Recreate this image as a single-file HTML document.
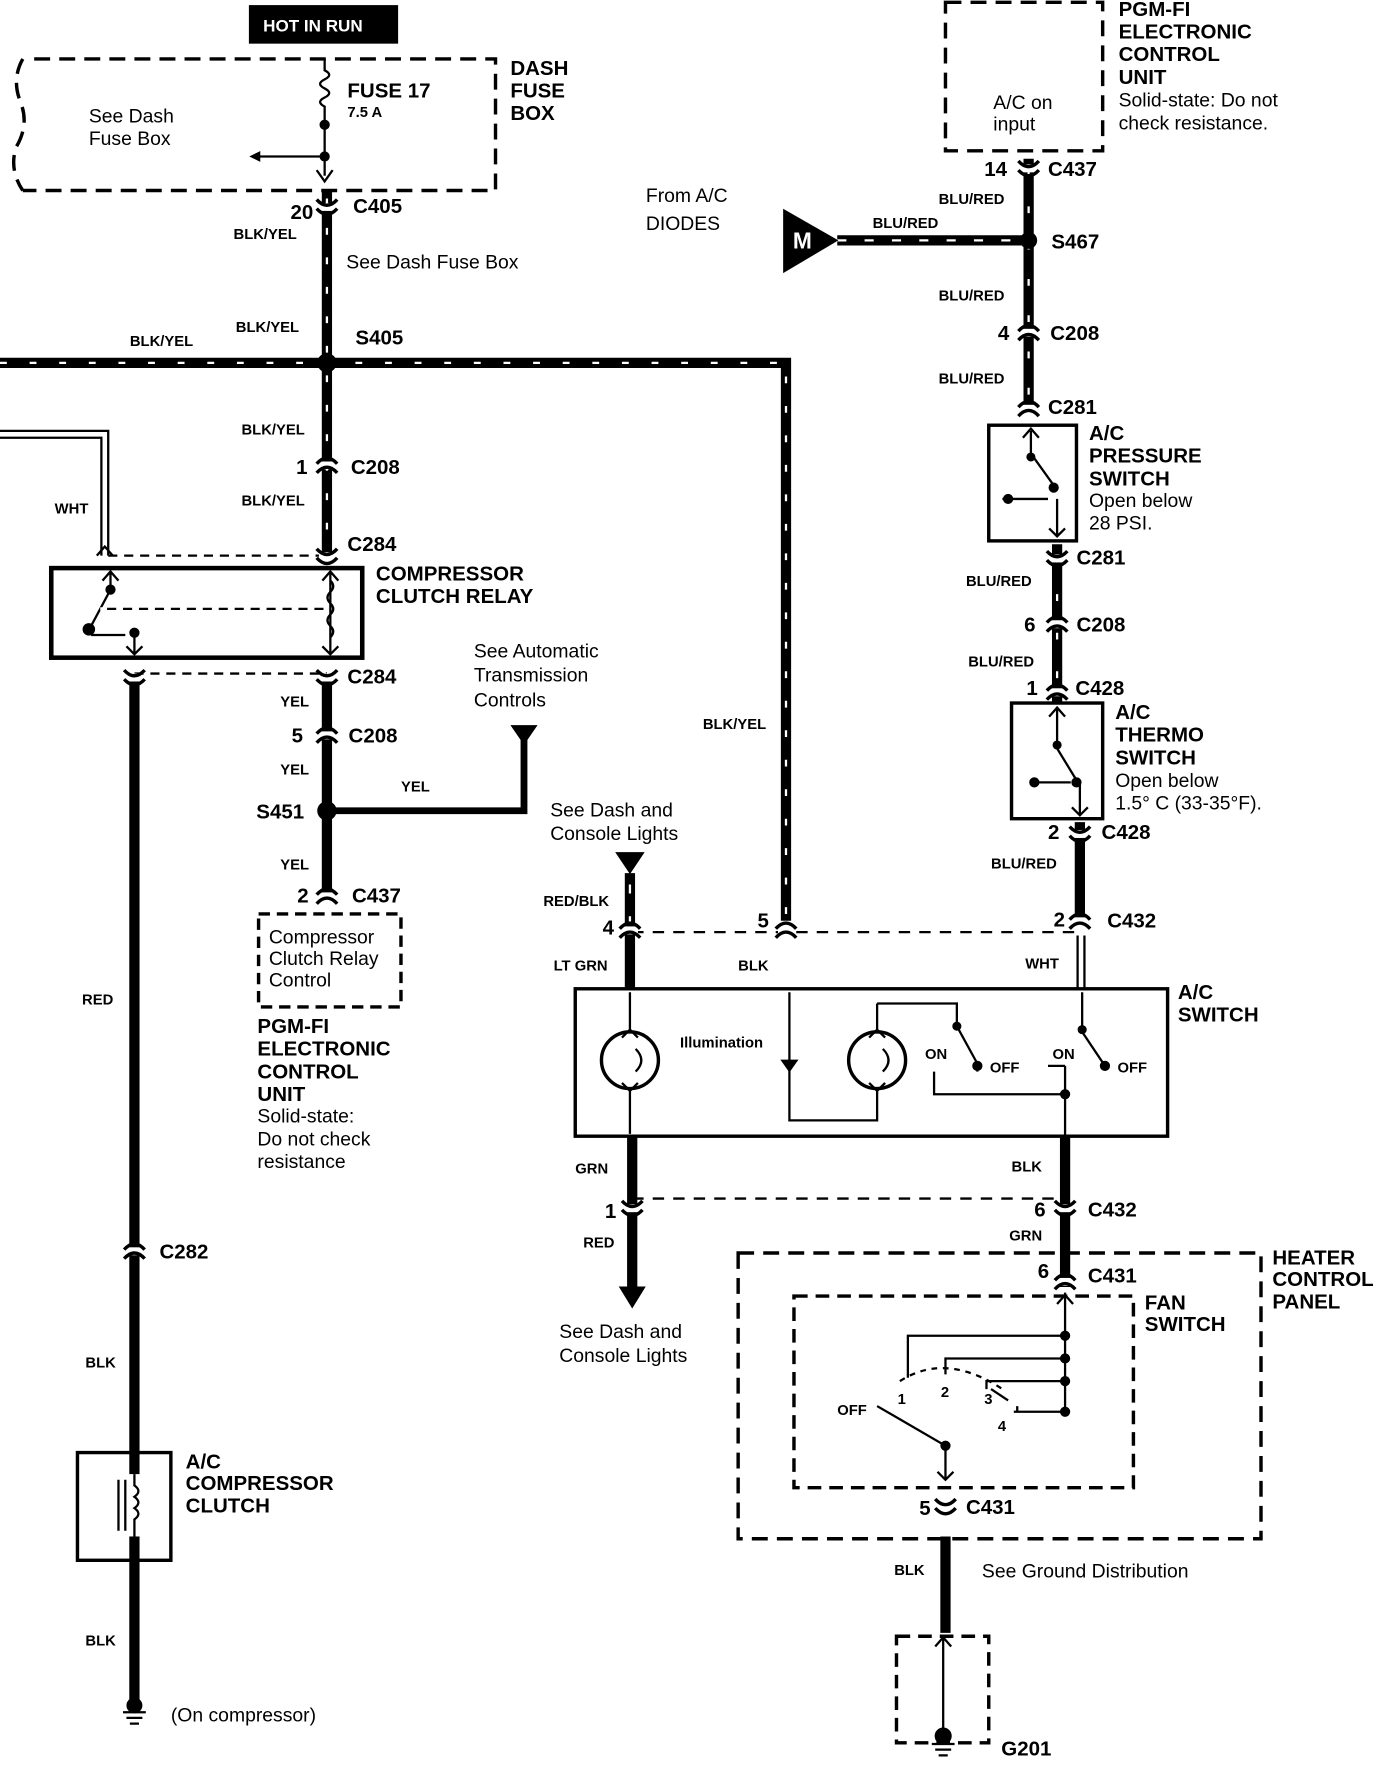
<!DOCTYPE html>
<html><head><meta charset="utf-8"><style>
html,body{margin:0;padding:0;background:#fff}
svg{display:block}
text{font-family:"Liberation Sans",Arial,sans-serif;fill:#000}
.b{font-weight:bold}
.s{font-size:13px;font-weight:bold}
.m{font-size:17px}
.l{font-size:18px;font-weight:bold}
</style></head><body>
<svg width="1392" height="1778" viewBox="0 0 1222 1568" preserveAspectRatio="none" xmlns="http://www.w3.org/2000/svg">
<defs>
<g id="cn"><rect x="-7" y="-3" width="14" height="7" fill="#fff"/><path d="M-9 -1 Q0 -11 9 -1" fill="none" stroke="#000" stroke-width="3"/><path d="M-9 7 Q0 -3 9 7" fill="none" stroke="#000" stroke-width="3"/></g>
<g id="cnv"><rect x="-7" y="-3" width="14" height="7" fill="#fff"/><path d="M-9 -6 Q0 4 9 -6" fill="none" stroke="#000" stroke-width="3"/><path d="M-9 2 Q0 12 9 2" fill="none" stroke="#000" stroke-width="3"/></g>
</defs>
<g fill="none" stroke="#000">
<!-- HOT IN RUN -->
<rect x="219" y="5" width="130" height="33" fill="#000"/>
<!-- dash fuse box -->
<path d="M30 52 H435 V168 H20 M20 52 Q10 70 18 90 Q26 110 14 130 Q8 150 20 168" stroke-width="3" stroke-dasharray="14 8"/>
<path d="M285 52 V62 q8 4 0 8 q-8 4 0 8 q8 4 0 8 q-8 4 0 8 V155" stroke-width="2"/>
<path d="M285 138 H225" stroke-width="2"/>
<path d="M228 134 L220 138 L228 142 Z" fill="#000"/>
<circle cx="285" cy="110" r="4" fill="#000"/><circle cx="285" cy="138" r="4" fill="#000"/>
<path d="M278 150 L285 160 L292 150" stroke-width="2"/>
<!-- BLK/YEL main wire -->
<path d="M287 168 V490" stroke-width="9"/>
<path d="M0 320 H690 V812" stroke-width="9"/>
<path d="M287 175 V490 M0 320 H690 V812" stroke="#fff" stroke-width="2" stroke-dasharray="6 20"/>
<circle cx="287" cy="320" r="8" fill="#000"/>
<!-- WHT wire -->
<path d="M0 380 H95 V490 M0 386 H89 V490" stroke-width="2"/>
<path d="M85 490 L92 482 L99 490" stroke-width="2"/>
<!-- relay -->
<path d="M95 490 H287" stroke-width="2" stroke-dasharray="8 6"/>
<rect x="45" y="501" width="273" height="79" stroke-width="4"/>
<path d="M97 505 V520 M90 512 L97 504 L104 512 M97 520 L80 552 M80 560 H110 M118 560 V577 M111 570 L118 577 L125 570 M290 505 V577 M283 512 L290 504 L297 512 M283 570 L290 577 L297 570 M88 537 H288" stroke-width="2" stroke-dasharray="0"/>
<path d="M88 537 H288" stroke="#fff" stroke-width="3" stroke-dasharray="6 8"/>
<circle cx="97" cy="520" r="4" fill="#000"/><circle cx="78" cy="555" r="5" fill="#000"/><circle cx="118" cy="558" r="4" fill="#000"/>
<path d="M290 512 q5 5 0 10 q-5 5 0 10 q5 5 0 10 q-5 5 0 10 q5 5 0 10" stroke-width="2"/>
<path d="M118 594 H287" stroke-width="2" stroke-dasharray="8 6"/>
<!-- RED left wire -->
<path d="M118 594 V1500" stroke-width="9"/>
<rect x="68" y="1281" width="82" height="95" stroke-width="3"/>
<rect x="100" y="1300" width="36" height="55" fill="#fff" stroke="none"/>
<path d="M104 1305 V1350 M110 1305 V1350 M118 1300 V1310 q7 5 0 10 q7 5 0 10 q7 5 0 10 V1355" stroke-width="2"/>
<path d="M108 1510 h20 M111 1515 h14 M114 1520 h8" stroke-width="2"/>
<circle cx="118" cy="1504" r="7" fill="#000" stroke="none"/>
<!-- YEL wire -->
<path d="M287 596 V790" stroke-width="9"/>
<path d="M287 715 H460 V650" stroke-width="6"/>
<path d="M449 640 L460 656 L471 640 Z" fill="#000"/>
<circle cx="287" cy="715" r="8" fill="#000"/>
<rect x="227" y="806" width="125" height="82" stroke-width="3" stroke-dasharray="10 6"/>
<!-- right column -->
<rect x="830" y="2" width="138" height="131" stroke-width="3" stroke-dasharray="14 8"/>
<path d="M903 140 V362" stroke-width="9"/>
<path d="M903 150 V362" stroke="#fff" stroke-width="2" stroke-dasharray="6 26"/>
<path d="M735 212 H903" stroke-width="9"/>
<path d="M735 212 H903" stroke="#fff" stroke-width="2" stroke-dasharray="8 16"/>
<path d="M688 185 L735 212 L688 240 Z" fill="#000"/>
<circle cx="903" cy="212" r="7" fill="#000"/>
<rect x="868" y="375" width="77" height="102" stroke-width="3"/>
<path d="M905 380 V400 L925 428 M880 440 H920 M928 440 V472 M898 386 L905 378 L912 386 M921 466 L928 473 L935 466" stroke-width="2"/>
<circle cx="905" cy="403" r="3.5" fill="#000"/><circle cx="885" cy="440" r="4" fill="#000"/><circle cx="925" cy="430" r="4" fill="#000"/>
<path d="M928 480 V620" stroke-width="9"/>
<path d="M928 490 V620" stroke="#fff" stroke-width="2" stroke-dasharray="6 28"/>
<rect x="888" y="620" width="80" height="102" stroke-width="3"/>
<path d="M928 625 V660 L945 688 M908 690 H940 M948 690 V718 M921 632 L928 624 L935 632 M941 712 L948 719 L955 712" stroke-width="2"/>
<circle cx="928" cy="657" r="3.5" fill="#000"/><circle cx="908" cy="690" r="4" fill="#000"/><circle cx="945" cy="690" r="4" fill="#000"/>
<path d="M948 725 V815" stroke-width="9"/>
<path d="M946 825 V872 M952 825 V872" stroke-width="2"/>
<!-- switch input wires -->
<path d="M553 770 V872" stroke-width="9"/>
<path d="M553 780 V815" stroke="#fff" stroke-width="2" stroke-dasharray="8 20"/>
<path d="M541 752 L553 770 L565 752 Z" fill="#000"/>
<path d="M555 822 H950" stroke-width="2" stroke-dasharray="10 8"/>
<!-- A/C switch -->
<rect x="505" y="872" width="520" height="130" stroke-width="3"/>
<circle cx="553" cy="935" r="25" stroke-width="3"/>
<path d="M553 875 V908 M553 962 V1000 M546 915 L553 908 L560 915 M546 955 L553 962 L560 955" stroke-width="2"/>
<path d="M558 925 q10 10 0 20" stroke-width="2"/>
<circle cx="770" cy="935" r="25" stroke-width="3"/>
<path d="M770 885 V908 M770 962 V988 H693 V875 M763 915 L770 908 L777 915 M763 955 L770 962 L777 955" stroke-width="2"/>
<path d="M775 925 q10 10 0 20" stroke-width="2"/>
<path d="M686 935 H700 L693 945 Z" fill="#000" stroke-width="1"/>
<path d="M770 885 H840 V905 L858 938 M820 945 V965 H935 M840 905" stroke-width="2"/>
<path d="M950 875 V910 L970 940 M935 965 V1002 M935 940 V965" stroke-width="2"/>
<path d="M858 945 V940 M920 940 H935" stroke-width="2"/>
<circle cx="840" cy="905" r="3.5" fill="#000"/><circle cx="858" cy="940" r="4" fill="#000"/><circle cx="950" cy="908" r="3.5" fill="#000"/><circle cx="970" cy="940" r="4" fill="#000"/><circle cx="935" cy="965" r="4" fill="#000"/>
<!-- switch outputs -->
<path d="M555 1002 V1135" stroke-width="9"/>
<path d="M544 1135 L555 1153 L566 1135 Z" fill="#000"/>
<path d="M935 1002 V1135" stroke-width="9"/>
<path d="M555 1057 H935" stroke-width="2" stroke-dasharray="10 8"/>
<!-- heater control panel -->
<rect x="648" y="1105" width="459" height="252" stroke-width="3" stroke-dasharray="14 8"/>
<rect x="697" y="1143" width="298" height="169" stroke-width="3" stroke-dasharray="12 7"/>
<path d="M935 1140 V1245 H890 M928 1150 L935 1142 L942 1150 M935 1178 H797 V1215 M935 1198 H830 V1212 M935 1218 H866 V1225" stroke-width="2"/>
<path d="M893 1245 V1240 M870 1225 L885 1235" stroke-width="2"/>
<path d="M790 1218 Q830 1192 880 1225" stroke-width="2" stroke-dasharray="5 5"/>
<path d="M770 1240 L830 1275 V1305 M823 1298 L830 1305 L837 1298" stroke-width="2"/>
<circle cx="935" cy="1178" r="4" fill="#000"/><circle cx="935" cy="1198" r="4" fill="#000"/><circle cx="935" cy="1218" r="4" fill="#000"/><circle cx="935" cy="1245" r="4" fill="#000"/><circle cx="830" cy="1275" r="4" fill="#000"/>
<path d="M830 1355 V1440" stroke-width="9"/>
<rect x="787" y="1443" width="81" height="94" stroke-width="3" stroke-dasharray="12 7"/>
<path d="M828 1445 V1525 M821 1452 L828 1444 L835 1452 M818 1538 h20 M821 1543 h14 M824 1548 h8" stroke-width="2"/>
<circle cx="828" cy="1531" r="7" fill="#000"/>
</g>
<!-- connectors -->
<use href="#cnv" x="287" y="182"/>
<use href="#cn" x="287" y="410"/>
<use href="#cnv" x="287" y="490"/>
<use href="#cnv" x="287" y="597"/>
<use href="#cnv" x="118" y="597"/>
<use href="#cn" x="287" y="648"/>
<use href="#cn" x="287" y="790"/>
<use href="#cnv" x="903" y="148"/>
<use href="#cn" x="903" y="293"/>
<use href="#cn" x="903" y="360"/>
<use href="#cnv" x="928" y="492"/>
<use href="#cn" x="928" y="550"/>
<use href="#cn" x="928" y="610"/>
<use href="#cnv" x="948" y="735"/>
<use href="#cn" x="948" y="812"/>
<use href="#cn" x="553" y="820"/>
<use href="#cn" x="690" y="820"/>
<use href="#cnv" x="555" y="1065"/>
<use href="#cnv" x="935" y="1065"/>
<use href="#cn" x="935" y="1130"/>
<use href="#cnv" x="830" y="1328"/>
<use href="#cn" x="118" y="1103"/>
<!-- text -->
<text x="231" y="28" class="b" font-size="15" style="fill:#fff">HOT IN RUN</text>
<text x="78" y="108" class="m">See Dash</text><text x="78" y="128" class="m">Fuse Box</text>
<text x="305" y="86" class="l">FUSE 17</text><text x="305" y="103" class="s" font-size="11">7.5 A</text>
<text x="448" y="66" class="l">DASH</text><text x="448" y="86" class="l">FUSE</text><text x="448" y="106" class="l">BOX</text>
<text x="255" y="193" class="l" font-size="16">20</text><text x="310" y="188" class="l" font-size="17">C405</text>
<text x="205" y="211" class="s">BLK/YEL</text>
<text x="304" y="237" class="m">See Dash Fuse Box</text>
<text x="207" y="293" class="s">BLK/YEL</text>
<text x="312" y="304" class="l" font-size="17">S405</text>
<text x="114" y="305" class="s">BLK/YEL</text>
<text x="212" y="383" class="s">BLK/YEL</text>
<text x="260" y="418" class="l" font-size="16">1</text><text x="308" y="418" class="l" font-size="17">C208</text>
<text x="212" y="446" class="s">BLK/YEL</text>
<text x="305" y="486" class="l" font-size="17">C284</text>
<text x="48" y="453" class="s">WHT</text>
<text x="330" y="512" class="l">COMPRESSOR</text><text x="330" y="532" class="l">CLUTCH RELAY</text>
<text x="305" y="603" class="l" font-size="17">C284</text>
<text x="246" y="623" class="s">YEL</text>
<text x="256" y="655" class="l" font-size="16">5</text><text x="306" y="655" class="l" font-size="17">C208</text>
<text x="246" y="683" class="s">YEL</text>
<text x="225" y="722" class="l" font-size="17">S451</text>
<text x="352" y="698" class="s">YEL</text>
<text x="416" y="580" class="m">See Automatic</text><text x="416" y="601" class="m">Transmission</text><text x="416" y="623" class="m">Controls</text>
<text x="246" y="767" class="s">YEL</text>
<text x="261" y="796" class="l" font-size="16">2</text><text x="309" y="796" class="l" font-size="17">C437</text>
<text x="236" y="832" class="m">Compressor</text><text x="236" y="851" class="m">Clutch Relay</text><text x="236" y="870" class="m">Control</text>
<text x="226" y="911" class="l">PGM-FI</text><text x="226" y="931" class="l">ELECTRONIC</text><text x="226" y="951" class="l">CONTROL</text><text x="226" y="971" class="l">UNIT</text>
<text x="226" y="990" class="m">Solid-state:</text><text x="226" y="1010" class="m">Do not check</text><text x="226" y="1030" class="m">resistance</text>
<text x="72" y="886" class="s">RED</text>
<text x="140" y="1110" class="l" font-size="17">C282</text>
<text x="75" y="1206" class="s">BLK</text>
<text x="163" y="1295" class="l">A/C</text><text x="163" y="1314" class="l">COMPRESSOR</text><text x="163" y="1334" class="l">CLUTCH</text>
<text x="75" y="1451" class="s">BLK</text>
<text x="150" y="1518" class="m">(On compressor)</text>
<text x="982" y="14" class="l">PGM-FI</text><text x="982" y="34" class="l">ELECTRONIC</text><text x="982" y="54" class="l">CONTROL</text><text x="982" y="74" class="l">UNIT</text>
<text x="982" y="94" class="m">Solid-state: Do not</text><text x="982" y="114" class="m">check resistance.</text>
<text x="872" y="96" class="m">A/C on</text><text x="872" y="115" class="m">input</text>
<text x="864" y="155" class="l" font-size="16">14</text><text x="920" y="155" class="l" font-size="17">C437</text>
<text x="824" y="180" class="s">BLU/RED</text>
<text x="567" y="178" class="m">From A/C</text><text x="567" y="203" class="m">DIODES</text>
<text x="766" y="201" class="s">BLU/RED</text>
<text x="696" y="219" class="b" font-size="20" style="fill:#fff">M</text>
<text x="923" y="219" class="l" font-size="17">S467</text>
<text x="824" y="265" class="s">BLU/RED</text>
<text x="876" y="300" class="l" font-size="16">4</text><text x="922" y="300" class="l" font-size="17">C208</text>
<text x="824" y="338" class="s">BLU/RED</text>
<text x="920" y="365" class="l" font-size="17">C281</text>
<text x="956" y="388" class="l">A/C</text><text x="956" y="408" class="l">PRESSURE</text><text x="956" y="428" class="l">SWITCH</text>
<text x="956" y="447" class="m">Open below</text><text x="956" y="467" class="m">28 PSI.</text>
<text x="945" y="498" class="l" font-size="17">C281</text>
<text x="848" y="517" class="s">BLU/RED</text>
<text x="899" y="557" class="l" font-size="16">6</text><text x="945" y="557" class="l" font-size="17">C208</text>
<text x="850" y="588" class="s">BLU/RED</text>
<text x="901" y="613" class="l" font-size="16">1</text><text x="944" y="613" class="l" font-size="17">C428</text>
<text x="979" y="634" class="l">A/C</text><text x="979" y="654" class="l">THERMO</text><text x="979" y="674" class="l">SWITCH</text>
<text x="979" y="694" class="m">Open below</text><text x="979" y="714" class="m">1.5° C (33-35°F).</text>
<text x="920" y="740" class="l" font-size="16">2</text><text x="967" y="740" class="l" font-size="17">C428</text>
<text x="870" y="766" class="s">BLU/RED</text>
<text x="925" y="817" class="l" font-size="16">2</text><text x="972" y="818" class="l" font-size="17">C432</text>
<text x="900" y="854" class="s">WHT</text>
<text x="1034" y="881" class="l">A/C</text><text x="1034" y="901" class="l">SWITCH</text>
<text x="483" y="720" class="m">See Dash and</text><text x="483" y="741" class="m">Console Lights</text>
<text x="477" y="799" class="s">RED/BLK</text>
<text x="529" y="824" class="l" font-size="16">4</text>
<text x="665" y="818" class="l" font-size="16">5</text>
<text x="617" y="643" class="s">BLK/YEL</text>
<text x="486" y="856" class="s">LT GRN</text>
<text x="648" y="856" class="s">BLK</text>
<text x="597" y="924" class="s">Illumination</text>
<text x="812" y="934" class="s">ON</text><text x="869" y="946" class="s">OFF</text>
<text x="924" y="934" class="s">ON</text><text x="981" y="946" class="s">OFF</text>
<text x="505" y="1035" class="s">GRN</text>
<text x="888" y="1033" class="s">BLK</text>
<text x="531" y="1074" class="l" font-size="16">1</text>
<text x="908" y="1073" class="l" font-size="16">6</text><text x="955" y="1073" class="l" font-size="17">C432</text>
<text x="512" y="1100" class="s">RED</text>
<text x="886" y="1094" class="s">GRN</text>
<text x="491" y="1180" class="m">See Dash and</text><text x="491" y="1201" class="m">Console Lights</text>
<text x="911" y="1127" class="l" font-size="16">6</text><text x="955" y="1131" class="l" font-size="17">C431</text>
<text x="1117" y="1115" class="l">HEATER</text><text x="1117" y="1134" class="l">CONTROL</text><text x="1117" y="1154" class="l">PANEL</text>
<text x="1005" y="1155" class="l">FAN</text><text x="1005" y="1174" class="l">SWITCH</text>
<text x="735" y="1248" class="s">OFF</text>
<text x="788" y="1238" class="s" font-size="12">1</text><text x="826" y="1232" class="s" font-size="12">2</text><text x="864" y="1238" class="s" font-size="12">3</text><text x="876" y="1262" class="s" font-size="12">4</text>
<text x="807" y="1336" class="l" font-size="16">5</text><text x="848" y="1335" class="l" font-size="17">C431</text>
<text x="785" y="1389" class="s">BLK</text>
<text x="862" y="1391" class="m">See Ground Distribution</text>
<text x="879" y="1548" class="l" font-size="17">G201</text>
</svg>
</body></html>
